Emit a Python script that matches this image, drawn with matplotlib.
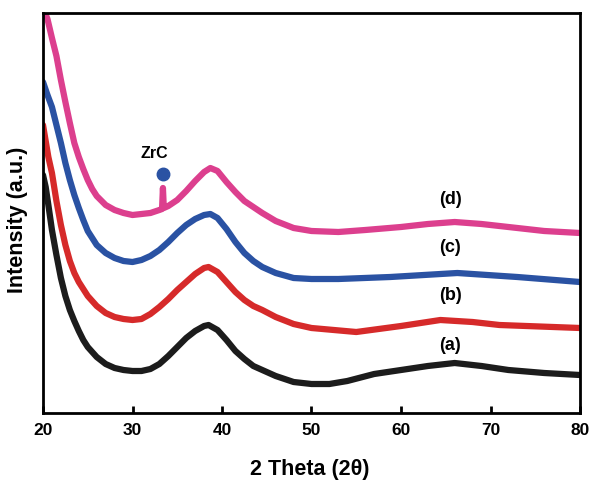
import matplotlib
matplotlib.use("Agg")
import matplotlib.pyplot as plt

# 2-theta positions and intensities (a.u.)
d_x = [20.0, 20.5, 21.0, 21.5, 22.0, 22.5, 23.0, 23.5, 24.0, 24.5, 25.0, 25.5, 26.0, 27.0, 28.0, 29.0,
       30.0, 31.0, 32.0, 33.0, 33.3, 33.4, 33.5, 34.0, 35.0, 36.0, 37.0, 38.0, 38.7, 39.5, 40.5, 41.5,
       42.5, 43.5, 44.5, 46.0, 48.0, 50.0, 53.0, 56.0, 60.0, 63.0, 66.0, 69.0, 72.0, 76.0, 80.0]
d_y = [405, 394, 375, 357, 333, 311, 290, 270, 256, 244, 233, 224, 217, 208, 203, 200,
       198, 199, 200, 203, 204, 225, 205, 207, 213, 222, 232, 241, 245, 242, 231, 221,
       212, 206, 200, 192, 185, 182, 181, 183, 186, 189, 191, 189, 186, 182, 180]

c_x = [20.0, 20.5, 21.0, 21.5, 22.0, 22.5, 23.0, 23.5, 24.0, 24.5, 25.0, 25.5, 26.0, 27.0, 28.0, 29.0,
       30.0, 31.0, 32.0, 33.0, 34.0, 35.0, 36.0, 37.0, 38.0, 38.7, 39.5, 40.5, 41.5, 42.5, 43.5, 44.5,
       46.0, 48.0, 50.0, 53.0, 58.8, 66.3, 73.0, 80.0]
c_y = [331, 318, 306, 288, 270, 250, 233, 218, 205, 193, 182, 175, 168, 160, 155, 152,
       151, 153, 157, 163, 171, 180, 188, 194, 198, 199, 195, 184, 171, 160, 152, 146,
       140, 135, 134, 134, 136, 140, 136, 131]

b_x = [20.0, 20.3, 20.6, 21.0, 21.5, 22.0, 22.5, 23.0, 23.5, 24.0, 25.0, 26.0, 27.0, 28.0, 29.0,
       30.0, 31.0, 32.0, 33.0, 34.0, 35.0, 36.0, 37.0, 38.0, 38.5, 39.5, 40.5, 41.5, 42.5, 43.5, 44.5,
       46.0, 48.0, 50.0, 55.0, 60.0, 64.4, 68.0, 71.0, 80.0]
b_y = [288, 272, 256, 240, 212, 188, 168, 152, 140, 131, 117, 107, 100, 96, 94,
       93, 94, 99, 106, 114, 123, 131, 139, 145, 146, 141, 131, 121, 113, 107, 103,
       96, 89, 85, 81, 87, 93, 91, 88, 85]

a_x = [20.0, 20.3, 20.6, 21.0, 21.5, 22.0, 22.5, 23.0, 23.5, 24.0, 24.5, 25.0, 26.0, 27.0, 28.0, 29.0,
       30.0, 31.0, 32.0, 33.0, 34.0, 35.0, 36.0, 37.0, 38.0, 38.5, 39.5, 40.5, 41.5, 42.5, 43.5, 44.5,
       46.0, 48.0, 50.0, 52.0, 54.0, 57.0, 60.0, 63.0, 66.0, 69.0, 72.0, 76.0, 80.0]
a_y = [238, 226, 208, 183, 158, 135, 117, 103, 92, 82, 73, 66, 56, 49, 45, 43,
       42, 42, 44, 49, 57, 66, 75, 82, 87, 88, 83, 73, 62, 54, 47, 43,
       37, 31, 29, 29, 32, 39, 43, 47, 50, 47, 43, 40, 38]

labels = ["(a)", "(b)", "(c)", "(d)"]
label_y = [68, 117, 166, 214]
zrc_pos = (33.4, 239)

colors = {"a": "#1c1c1c", "b": "#d62a2a", "c": "#2a52a3", "d": "#dc3f8e"}

fig = plt.figure(figsize=(5.9, 4.84), dpi=100)
ax = fig.add_axes([43/590, 71/484, 537/590, 400/484])

for xs, ys, k in [(a_x, a_y, "a"), (b_x, b_y, "b"), (c_x, c_y, "c"), (d_x, d_y, "d")]:
    ax.plot(xs, ys, color=colors[k], lw=4.5, solid_joinstyle="round", solid_capstyle="round")

font = dict(family="Liberation Sans", weight="bold")
for lab, ly in zip(labels, label_y):
    ax.text(65.5, ly, lab, ha="center", va="center", fontsize=13, **font)

ax.plot([zrc_pos[0]], [zrc_pos[1]], "o", color="#2a52a3", ms=9)
ax.text(33.4 - 1.0, 259, "ZrC", ha="center", va="center", fontsize=11.5, **font)

ax.set_xlim(20, 80)
ax.set_ylim(0, 400)
ax.set_xticks([20, 30, 40, 50, 60, 70, 80])
ax.set_yticks([])
ax.tick_params(axis="x", direction="in", length=5, width=2, pad=7, labelsize=12.5)
for lbl in ax.get_xticklabels():
    lbl.set_fontfamily("Liberation Sans")
    lbl.set_fontweight("bold")
for s in ax.spines.values():
    s.set_linewidth(2)

fig.text(310/590, 1 - 469/484, "2 Theta (2\u03b8)", ha="center", va="center", fontsize=15.5, **font)
fig.text(18/590, 1 - 220/484, "Intensity (a.u.)", ha="center", va="center", rotation=90, fontsize=15.5, **font)

fig.savefig("out.png", dpi=100)
